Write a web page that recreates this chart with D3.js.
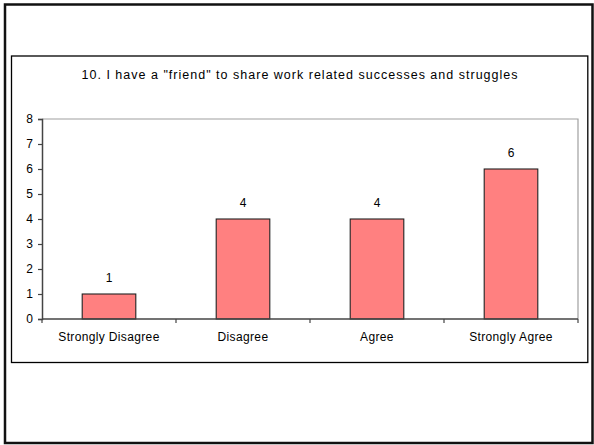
<!DOCTYPE html>
<html>
<head>
<meta charset="utf-8">
<script src="https://cdn.jsdelivr.net/npm/d3@7"></script>
<style>
  html, body { margin: 0; padding: 0; background: #fff; }
  svg { display: block; }
  text { font-family: "Liberation Sans", Arial, sans-serif; fill: #000; }
</style>
</head>
<body>
<svg id="chart" width="594" height="445"></svg>
<script>
// Survey responses for question 10
const categories = ["Strongly Disagree", "Disagree", "Agree", "Strongly Agree"];
const counts = [1, 4, 4, 6];
const yTicks = [0, 1, 2, 3, 4, 5, 6, 7, 8];
const titleText = '10. I have a "friend" to share work related successes and struggles';

const W = 594, H = 445;
const svg = d3.select("#chart");

svg.append("rect").attr("width", W).attr("height", H).attr("fill", "#fff");

// slide frame
svg.append("rect")
  .attr("x", 5).attr("y", 4.5).attr("width", 587.5).attr("height", 438.5)
  .attr("fill", "none").attr("stroke", "#111").attr("stroke-width", 2.5);

// chart frame
svg.append("rect")
  .attr("x", 11.5).attr("y", 56).attr("width", 576.3).attr("height", 306.5)
  .attr("fill", "#fff").attr("stroke", "#000").attr("stroke-width", 1.3);

const plot = { left: 42, right: 578, top: 119, bottom: 319 };

const x = d3.scaleBand()
  .domain(categories)
  .range([plot.left, plot.right])
  .paddingInner(0.6)
  .paddingOuter(0.3);

const xCat = d3.scaleBand().domain(categories).range([plot.left, plot.right]);

const y = d3.scaleLinear().domain([0, 8]).range([plot.bottom, plot.top]);

// plot area border (top and right)
svg.append("path")
  .attr("d", `M${plot.left},${plot.top}H${plot.right}V${plot.bottom}`)
  .attr("fill", "none").attr("stroke", "#a0a0a0").attr("stroke-width", 1.2);

// title
svg.append("text")
  .attr("x", 299.5).attr("y", 79)
  .attr("text-anchor", "middle")
  .attr("font-size", 12.5)
  .attr("textLength", 436).attr("lengthAdjust", "spacing")
  .text(titleText);

// bars
svg.append("g").selectAll("rect")
  .data(categories)
  .join("rect")
  .attr("x", d => x(d))
  .attr("width", x.bandwidth())
  .attr("y", (d, i) => y(counts[i]))
  .attr("height", (d, i) => y(0) - y(counts[i]))
  .attr("fill", "#ff8080")
  .attr("stroke", "#222")
  .attr("stroke-width", 1.1);

// value labels
svg.append("g").selectAll("text")
  .data(categories)
  .join("text")
  .attr("x", d => x(d) + x.bandwidth() / 2)
  .attr("y", (d, i) => y(counts[i]) - 12)
  .attr("text-anchor", "middle")
  .attr("font-size", 12)
  .text((d, i) => counts[i]);

// y axis
const yAxis = svg.append("g")
  .attr("transform", `translate(${plot.left},0)`)
  .call(d3.axisLeft(y).tickValues(yTicks).tickSize(4).tickPadding(5).tickFormat(d3.format("d")));
yAxis.select(".domain").attr("stroke", "#444").attr("stroke-width", 1.5);
yAxis.selectAll(".tick line").attr("stroke", "#444").attr("stroke-width", 1.2);
yAxis.selectAll(".tick text")
  .attr("font-family", '"Liberation Sans", Arial, sans-serif')
  .attr("font-size", 12).attr("fill", "#000");

// x axis with ticks between categories
const boundaries = categories.map(c => xCat(c)).concat([plot.right]);
const xAxisG = svg.append("g");
xAxisG.append("line")
  .attr("x1", plot.left).attr("x2", plot.right)
  .attr("y1", plot.bottom).attr("y2", plot.bottom)
  .attr("stroke", "#444").attr("stroke-width", 1.5);
xAxisG.selectAll("line.tk")
  .data(boundaries)
  .join("line")
  .attr("class", "tk")
  .attr("x1", d => d).attr("x2", d => d)
  .attr("y1", plot.bottom).attr("y2", plot.bottom + 4)
  .attr("stroke", "#444").attr("stroke-width", 1.2);
xAxisG.selectAll("text")
  .data(categories)
  .join("text")
  .attr("x", d => xCat(d) + xCat.bandwidth() / 2)
  .attr("y", 340.5)
  .attr("text-anchor", "middle")
  .attr("font-size", 12)
  .attr("letter-spacing", 0.35)
  .text(d => d);
</script>
</body>
</html>
